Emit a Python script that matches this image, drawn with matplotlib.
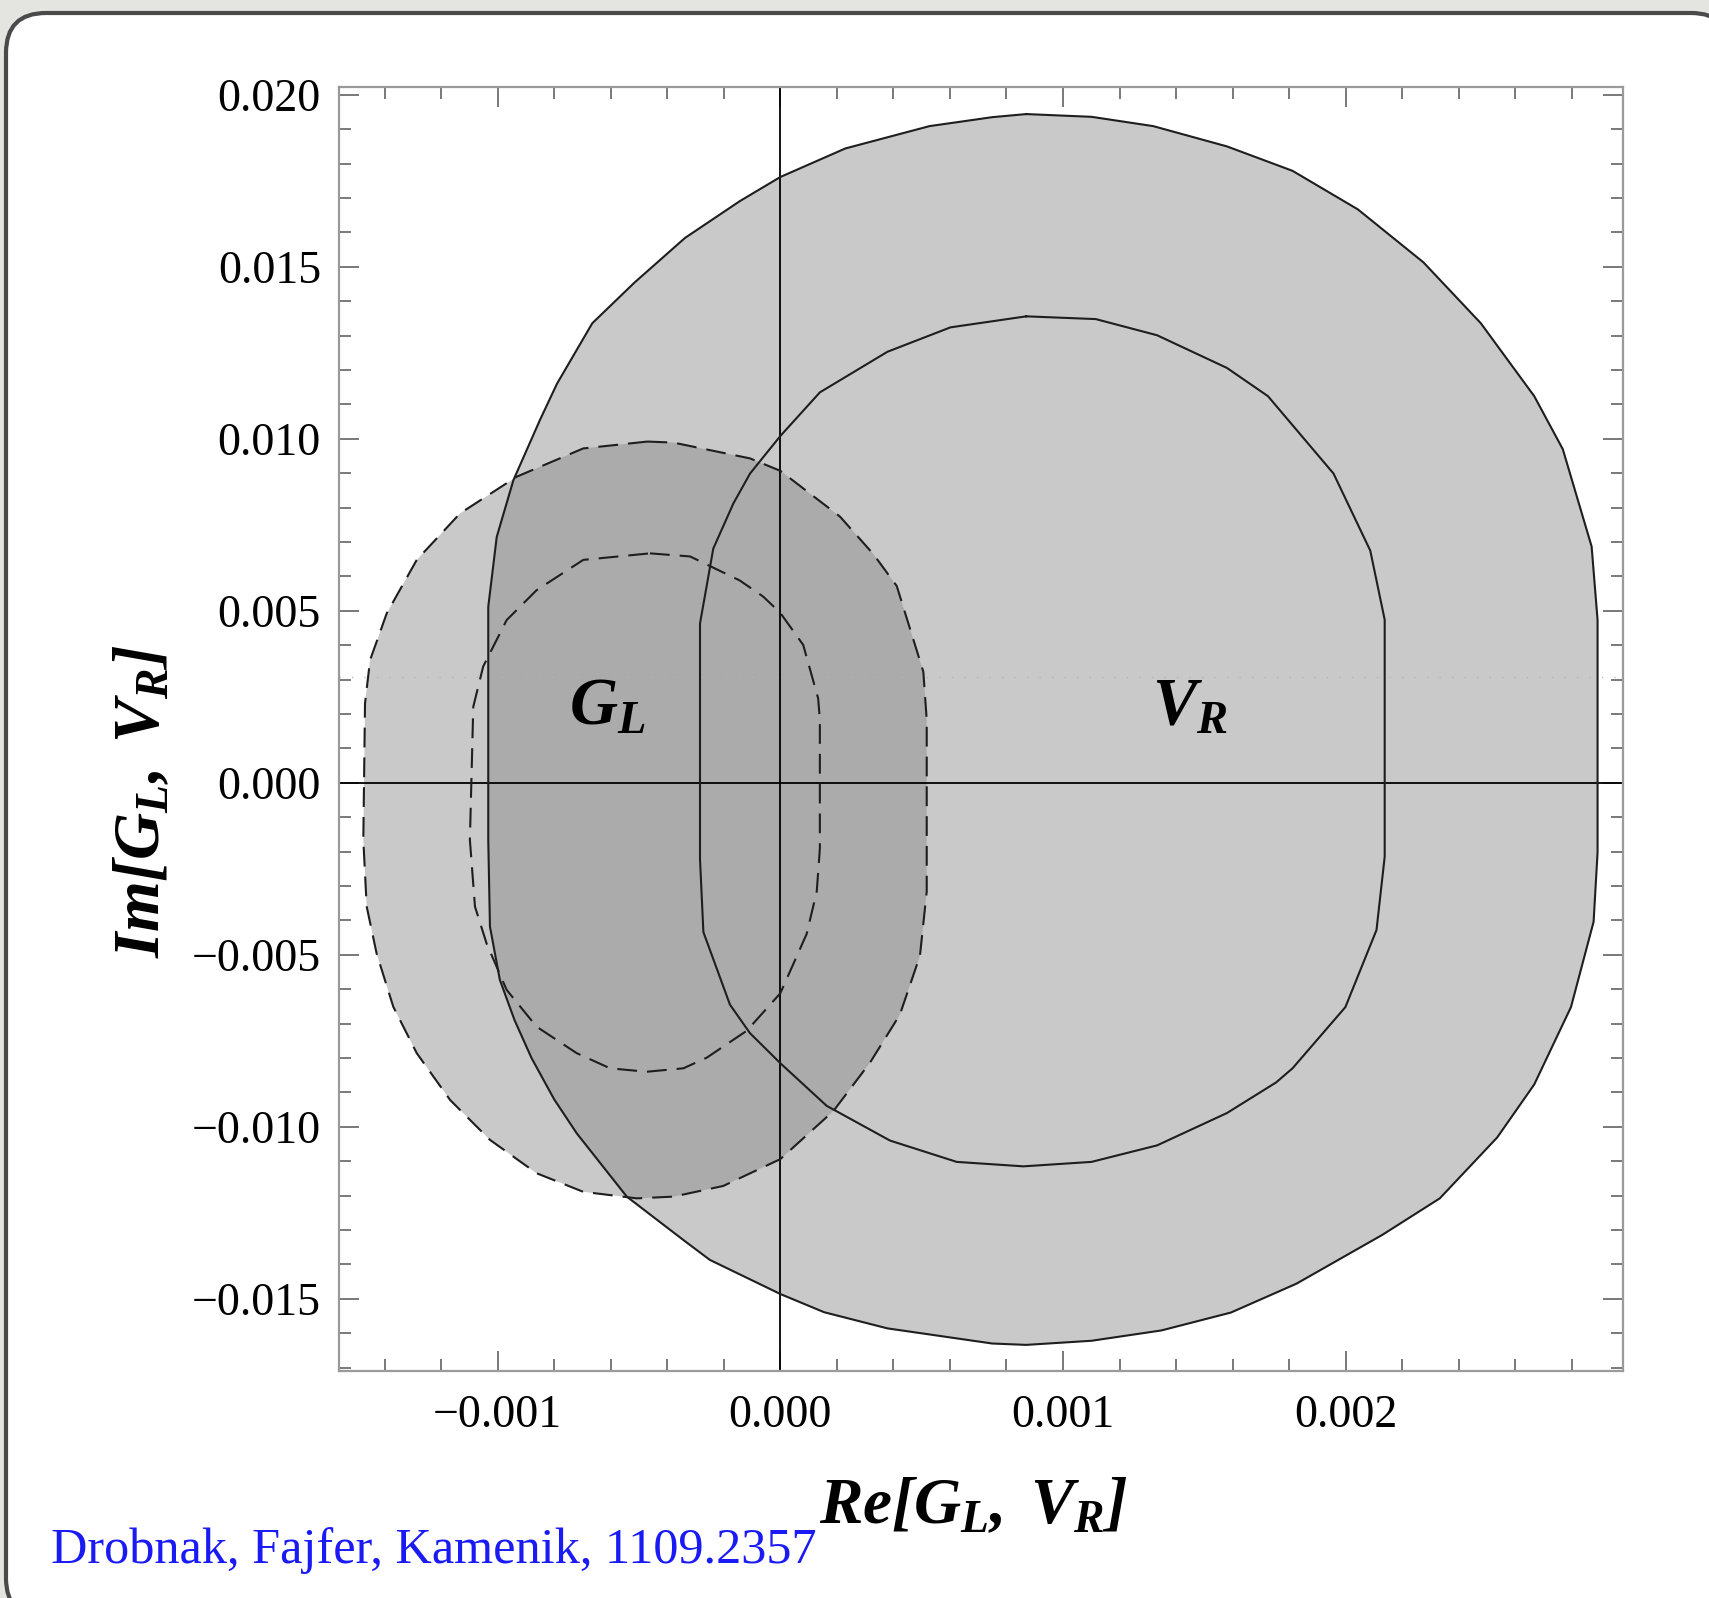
"""
Re/Im plane of G_L and V_R allowed regions (Drobnak, Fajfer, Kamenik, 1109.2357).
Contours digitised by eye from the original figure.
Output: out.png
"""
import numpy as np
import matplotlib
matplotlib.use("Agg")
import matplotlib.pyplot as plt
from matplotlib.patches import Polygon, FancyBboxPatch
from matplotlib.ticker import MultipleLocator, FixedLocator, FixedFormatter
from matplotlib.transforms import IdentityTransform

plt.rcParams.update({
    "font.family": "Liberation Serif",
    "mathtext.fontset": "custom",
    "mathtext.it": "Liberation Serif:bold:italic",
    "mathtext.rm": "Liberation Serif:bold:italic",
    "mathtext.bf": "Liberation Serif:bold:italic",
})

# ── Contour vertices (units of 1e-3) ─────────────────────────────────────────
VR_OUTER_RE = [0.870, 1.101, 1.319, 1.580, 1.812, 2.043, 2.275, 2.478, 2.667, 2.768,
               2.870, 2.891, 2.891, 2.877, 2.797, 2.667, 2.536, 2.333, 2.130, 1.826,
               1.594, 1.348, 1.101, 0.870, 0.750, 0.379, 0.155, 0.000, -0.249, -0.343,
               -0.543, -0.720, -0.800, -0.880, -0.940, -0.992, -1.027, -1.033, -1.033,
               -1.003, -0.944, -0.850, -0.790, -0.665, -0.516, -0.337, -0.143, 0.000,
               0.230, 0.528, 0.750]
VR_OUTER_IM = [19.44, 19.36, 19.09, 18.50, 17.79, 16.67, 15.13, 13.36, 11.24, 9.70,
               6.87, 4.74, -2.03, -4.04, -6.52, -8.77, -10.31, -12.08, -13.14, -14.56,
               -15.40, -15.92, -16.22, -16.34, -16.30, -15.86, -15.39, -14.86, -13.87,
               -13.29, -12.03, -10.19, -9.20, -8.00, -6.90, -5.73, -4.18, -1.66, 5.12,
               7.15, 8.80, 10.55, 11.60, 13.36, 14.54, 15.84, 16.91, 17.61, 18.44,
               19.09, 19.35]

VR_INNER_RE = [0.870, 1.116, 1.333, 1.580, 1.725, 1.957, 2.087, 2.138, 2.138, 2.109,
               1.999, 1.812, 1.754, 1.580, 1.333, 1.101, 0.860, 0.624, 0.388, 0.164,
               0.000, -0.107, -0.178, -0.272, -0.284, -0.284, -0.237, -0.166, -0.107,
               0.000, 0.140, 0.379, 0.602]
VR_INNER_IM = [13.56, 13.48, 13.01, 12.06, 11.24, 8.99, 6.75, 4.74, -2.15, -4.28,
               -6.52, -8.30, -8.71, -9.60, -10.54, -11.02, -11.15, -11.02, -10.40, -9.39,
               -8.15, -7.28, -6.45, -4.34, -2.22, 4.63, 6.81, 8.12, 8.99,
               10.08, 11.35, 12.53, 13.24]

GL_OUTER_RE = [-0.470, -0.378, -0.107, 0.000, 0.211, 0.329, 0.412, 0.506, 0.518, 0.518,
               0.494, 0.423, 0.317, 0.188, 0.000, -0.202, -0.378, -0.508, -0.697, -0.862,
               -1.027, -1.168, -1.286, -1.369, -1.428, -1.463, -1.475, -1.469, -1.451,
               -1.392, -1.286, -1.133, -0.932, -0.697]
GL_OUTER_IM = [9.92, 9.89, 9.43, 9.07, 7.74, 6.65, 5.72, 3.23, 1.83, -3.16,
               -5.03, -6.74, -8.14, -9.54, -10.94, -11.72, -12.03, -12.08, -11.89, -11.35,
               -10.38, -9.22, -7.86, -6.51, -4.96, -3.60, -1.66, 2.31, 3.57,
               4.93, 6.48, 7.83, 8.90, 9.72]

GL_INNER_RE = [-0.461, -0.319, -0.143, -0.060, 0.000, 0.081, 0.134, 0.140, 0.140, 0.129,
               0.093, 0.000, -0.119, -0.260, -0.343, -0.473, -0.602, -0.720, -0.862,
               -0.968, -1.039, -1.080, -1.098, -1.086, -1.051, -0.968, -0.862, -0.697]
GL_INNER_IM = [6.67, 6.58, 5.88, 5.41, 4.94, 4.01, 2.45, 1.83, -1.91, -3.16,
               -4.40, -6.12, -7.21, -7.99, -8.30, -8.40, -8.30, -7.86, -7.09,
               -6.02, -4.67, -3.60, -1.66, 2.21, 3.38, 4.73, 5.60, 6.48]

X_TICKS = [-0.001, 0.000, 0.001, 0.002]
X_TICK_LABELS = ["\u22120.001", "0.000", "0.001", "0.002"]
Y_TICKS = [-0.015, -0.010, -0.005, 0.000, 0.005, 0.010, 0.015, 0.020]
Y_TICK_LABELS = ["\u22120.015", "\u22120.010", "\u22120.005", "0.000",
                 "0.005", "0.010", "0.015", "0.020"]

XLIM = (-0.001561, 0.002981)
YLIM = (-0.017099, 0.020227)

FILL = "#858585"
ALPHA = 0.44
LINE = "#1e1e1e"


def pts(re, im):
    return np.column_stack([np.asarray(re) * 1e-3, np.asarray(im) * 1e-3])


def closed(p):
    return np.vstack([p, p[:1]])


fig = plt.figure(figsize=(17.09, 15.98), dpi=100, facecolor="#e4e4e0")

# slide frame behind everything
frame = FancyBboxPatch((6, -20), 1725, 1598 - 13 + 20,
                       boxstyle="round,pad=0,rounding_size=40",
                       transform=IdentityTransform(), facecolor="white",
                       edgecolor="#4a4a4a", linewidth=3.0, zorder=-10)
fig.patches.append(frame)

ax = fig.add_axes([339 / 1709, 1 - 1371 / 1598, 1284 / 1709, 1284 / 1598])
ax.set_facecolor("white")
ax.set_zorder(5)

vr_out = pts(VR_OUTER_RE, VR_OUTER_IM)
vr_in = pts(VR_INNER_RE, VR_INNER_IM)
gl_out = pts(GL_OUTER_RE, GL_OUTER_IM)
gl_in = pts(GL_INNER_RE, GL_INNER_IM)

ax.add_patch(Polygon(vr_out, closed=True, facecolor=FILL, alpha=ALPHA,
                     edgecolor="none", zorder=1))
ax.add_patch(Polygon(gl_out, closed=True, facecolor=FILL, alpha=ALPHA,
                     edgecolor="none", zorder=1))

for p in (vr_out, vr_in):
    c = closed(p)
    ax.plot(c[:, 0], c[:, 1], color=LINE, lw=1.5, solid_joinstyle="round", zorder=3)
for p in (gl_out, gl_in):
    c = closed(p)
    ln, = ax.plot(c[:, 0], c[:, 1], color=LINE, lw=1.5, zorder=3)
    ln.set_dashes([9.5, 4.8])

# faint mesh artefact row of the original plot
ax.axhline(0.00308, color="#b4b4b4", lw=0.9, ls=(0, (1, 9)), zorder=1.5)

ax.axhline(0, color="black", lw=1.3, zorder=2)
ax.axvline(0, color="black", lw=1.3, zorder=2)

ax.set_xlim(*XLIM)
ax.set_ylim(*YLIM)

ax.xaxis.set_major_locator(FixedLocator(X_TICKS))
ax.xaxis.set_major_formatter(FixedFormatter(X_TICK_LABELS))
ax.yaxis.set_major_locator(FixedLocator(Y_TICKS))
ax.yaxis.set_major_formatter(FixedFormatter(Y_TICK_LABELS))
ax.xaxis.set_minor_locator(MultipleLocator(0.0002))
ax.yaxis.set_minor_locator(MultipleLocator(0.001))

ax.tick_params(which="both", direction="in", top=True, right=True,
               color="#555555", width=1.1, labelsize=33)
ax.tick_params(which="major", length=14.5)
ax.tick_params(which="minor", length=8.5)
ax.tick_params(axis="y", pad=13)
ax.tick_params(axis="x", pad=17)

for s in ax.spines.values():
    s.set_color("#9a9a9a")
    s.set_linewidth(1.6)

ax.text(-0.000613, 0.00217, r"$G_L$", fontsize=48, ha="center", va="center", zorder=4)
ax.text(0.00145, 0.00217, r"$V_R$", fontsize=48, ha="center", va="center", zorder=4)

fig.text(973 / 1709, 1 - 1507 / 1598, r"$Re[G_L,\;V_R]$", fontsize=47,
         ha="center", va="center")
fig.text(143 / 1709, 1 - 801 / 1598, r"$Im[G_L,\;V_R]$", fontsize=47,
         ha="center", va="center", rotation=90)

fig.text(51 / 1709, 1 - 1563 / 1598, "Drobnak, Fajfer, Kamenik, 1109.2357",
         fontsize=36.2, color="#1a1af5", ha="left", va="baseline")

fig.savefig("out.png", dpi=100, facecolor=fig.get_facecolor())
